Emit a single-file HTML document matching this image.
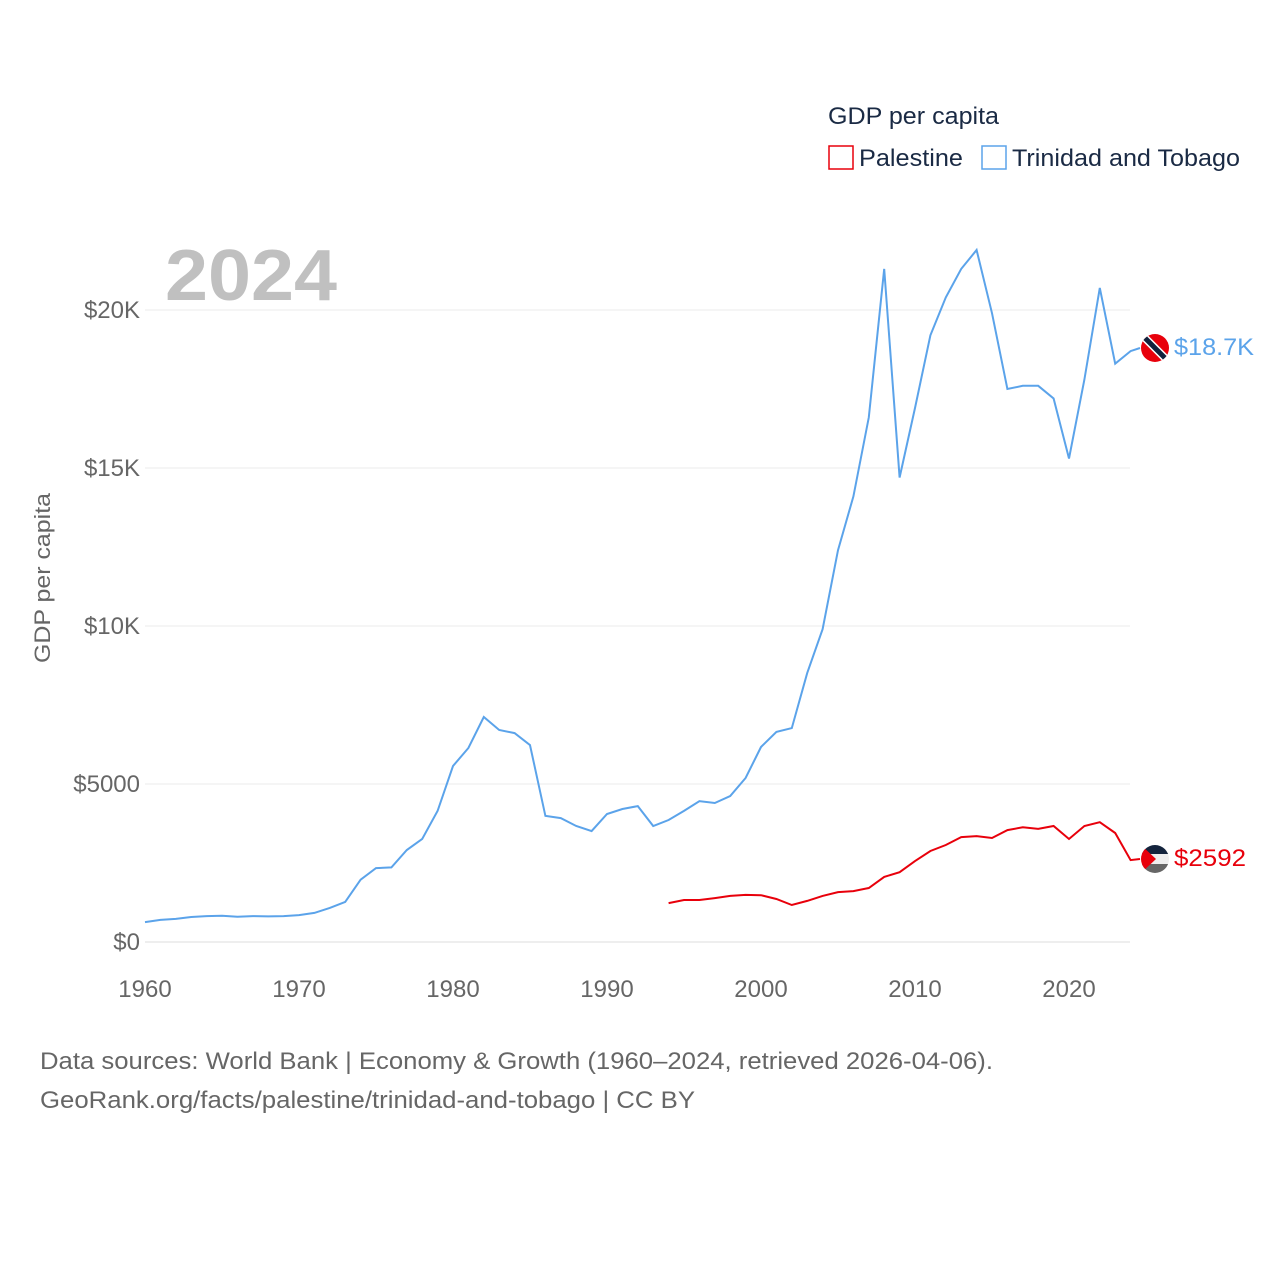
<!DOCTYPE html>
<html><head><meta charset="utf-8"><style>
body{margin:0;background:#fff;font-family:"Liberation Sans",sans-serif}
svg text{font-family:"Liberation Sans",sans-serif}
</style></head><body>
<svg width="1280" height="1280" viewBox="0 0 1280 1280">
<text x="828" y="124" font-size="24" fill="#1a2a44" textLength="171" lengthAdjust="spacingAndGlyphs">GDP per capita</text>
<g><rect x="829" y="146" width="24" height="23" fill="none" stroke="#e8000b" stroke-width="1.5"/><text x="859" y="166" font-size="24" fill="#1a2a44" textLength="104" lengthAdjust="spacingAndGlyphs">Palestine</text></g>
<g><rect x="982" y="146" width="24" height="23" fill="none" stroke="#5ba3ea" stroke-width="1.5"/><text x="1012" y="166" font-size="24" fill="#1a2a44" textLength="228" lengthAdjust="spacingAndGlyphs">Trinidad and Tobago</text></g>
<text x="165" y="300" font-size="72" font-weight="bold" fill="#c0c0c0" textLength="172" lengthAdjust="spacingAndGlyphs">2024</text>
<g id="grid"></g><g id="yt"></g><g id="xt"></g><g id="lines"></g>
<text transform="translate(50,578) rotate(-90)" text-anchor="middle" font-size="22" fill="#666" textLength="170" lengthAdjust="spacingAndGlyphs">GDP per capita</text>
<text x="40" y="1069" font-size="24" fill="#666" textLength="953" lengthAdjust="spacingAndGlyphs">Data sources: World Bank | Economy &amp; Growth (1960–2024, retrieved 2026-04-06).</text>
<text x="40" y="1108" font-size="24" fill="#666" textLength="655" lengthAdjust="spacingAndGlyphs">GeoRank.org/facts/palestine/trinidad-and-tobago | CC BY</text>
<defs><clipPath id="c1"><circle cx="1155" cy="348" r="14"/></clipPath><clipPath id="c2"><circle cx="1155" cy="859" r="14"/></clipPath></defs>
<g clip-path="url(#c1)"><rect x="1140" y="333" width="30" height="30" fill="#e8000b"/><line x1="1142" y1="335" x2="1168" y2="361" stroke="#fff" stroke-width="8"/><line x1="1142" y1="335" x2="1168" y2="361" stroke="#12223d" stroke-width="5"/></g>
<g clip-path="url(#c2)"><rect x="1140" y="844" width="30" height="10" fill="#14243d"/><rect x="1140" y="854" width="30" height="10" fill="#eee"/><rect x="1140" y="864" width="30" height="10" fill="#666"/><polygon points="1140,844 1156,859 1140,874" fill="#e8000b"/></g>
<text x="1174" y="355" font-size="24" fill="#5ba3ea" textLength="80" lengthAdjust="spacingAndGlyphs">$18.7K</text>
<text x="1174" y="866" font-size="24" fill="#e8000b" textLength="72" lengthAdjust="spacingAndGlyphs">$2592</text>
</svg>
<script>
const years=[];for(let y=1960;y<=2024;y++)years.push(y);
const tt=[0.63,0.70,0.73,0.79,0.82,0.83,0.80,0.82,0.81,0.82,0.85,0.92,1.08,1.27,1.97,2.34,2.36,2.91,3.26,4.15,5.57,6.14,7.12,6.71,6.61,6.23,3.99,3.92,3.67,3.51,4.05,4.21,4.30,3.67,3.86,4.15,4.46,4.40,4.62,5.19,6.17,6.65,6.77,8.51,9.9,12.4,14.1,16.6,21.3,14.7,16.9,19.2,20.4,21.3,21.9,19.9,17.5,17.6,17.6,17.2,15.3,17.8,20.7,18.3,18.7];
const psYears=[];for(let y=1994;y<=2024;y++)psYears.push(y);
const ps=[1.23,1.33,1.33,1.39,1.46,1.49,1.48,1.36,1.17,1.30,1.46,1.58,1.61,1.71,2.06,2.21,2.56,2.88,3.07,3.32,3.35,3.29,3.54,3.63,3.58,3.67,3.26,3.67,3.79,3.45,2.592];
const yTicks=[0,5,10,15,20];const yTickLabels=["$0","$5000","$10K","$15K","$20K"];
const xTicks=[1960,1970,1980,1990,2000,2010,2020];
const X=y=>145+(y-1960)*15.4, Y=v=>942-v*31.6;
const NS='http://www.w3.org/2000/svg';
function mk(t,a,p){const e=document.createElementNS(NS,t);for(const k in a)e.setAttribute(k,a[k]);document.getElementById(p).appendChild(e);return e;}
yTicks.forEach((v,i)=>{const l=mk('line',{x1:145,x2:1130,y1:Y(v),y2:Y(v),stroke:v==0?'#ddd':'#ebebeb','stroke-width':1},'grid');


const t=mk('text',{x:140,y:Y(v)+8,'text-anchor':'end','font-size':24,fill:'#666'},'yt');t.textContent=yTickLabels[i];

});
xTicks.forEach(v=>{const t=mk('text',{x:X(v),y:997,'text-anchor':'middle','font-size':24,fill:'#666'},'xt');t.textContent=v;

});
function line(xs,vs,col,name,fy){let d=xs.map((y,i)=>(i?'L':'M')+X(y).toFixed(1)+','+Y(vs[i]).toFixed(1)).join('');d+='L1140,'+fy;
const p=mk('path',{d:d,fill:'none',stroke:col,'stroke-width':2},'lines');

}
line(years,tt,'#5ba3ea','line-trinidad',348);
line(psYears,ps,'#e8000b','line-palestine',859);
</script>
</body></html>
